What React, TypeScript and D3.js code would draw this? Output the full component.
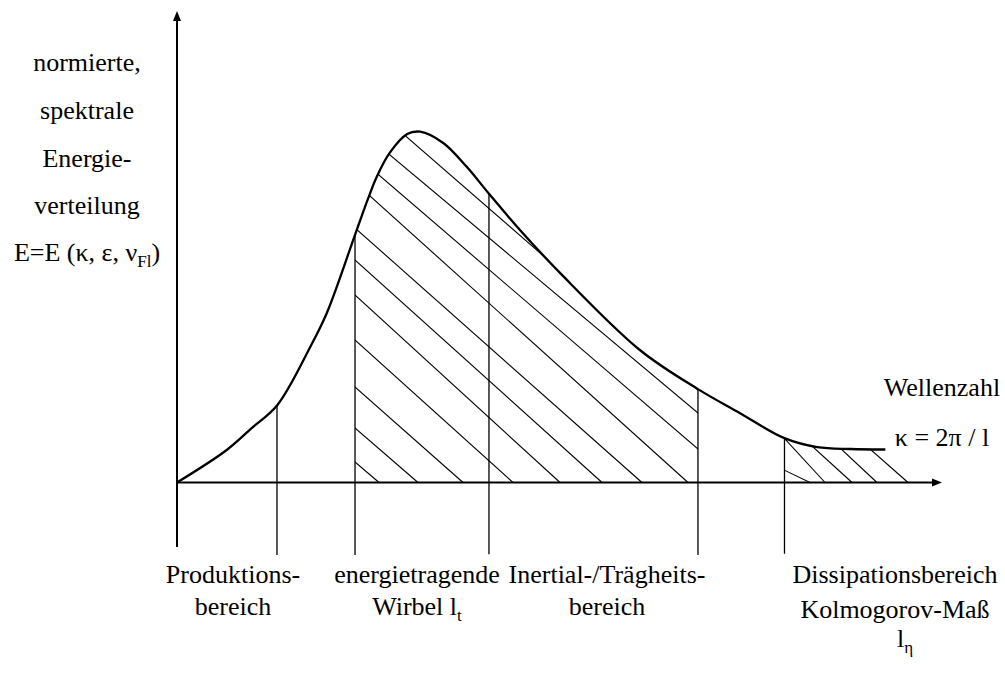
import React, { useEffect, useRef } from "react";
import * as d3 from "d3";

// Spectral energy curve E(κ) (arbitrary units)
const curveKappa = [0, 6.5, 9.8, 13.1, 17.4, 19.6, 23.5, 25.0, 26.1, 27.8, 30.1, 31.8, 34.8, 37.9, 40.7, 44.8, 50.1, 60.5, 68.1, 73.6, 79.4, 83.7, 88.0, 92.6];
const curveEnergy = [0, 6.9, 11.6, 16.4, 28.7, 36.0, 53.6, 60.3, 64.8, 69.9, 73.9, 74.4, 72.0, 66.9, 61.4, 53.6, 44.4, 28.1, 19.8, 14.7, 9.4, 7.5, 7.1, 7.0];

// Range boundaries (κ)
const dividerKappa = [13.07, 23.27, 40.78, 68.1, 79.41];

// Hatch lines: axis intercept κ and a second point (κ, E) on the line
const hatch1AxisKappa = [26.41, 31.5, 37.39, 43.92, 50.07, 55.56, 60.78, 66.8, 73.2, 78.95, 81.96];
const hatch1RefKappa = [23.27, 23.27, 23.27, 23.27, 23.27, 23.27, 23.27, 23.27, 23.27, 23.27, 23.27];
const hatch1RefEnergy = [4.35, 11.56, 20.25, 30.22, 39.77, 47.19, 53.98, 63.63, 69.56, 75.67, 82.82];

const hatch2AxisKappa = [82.75, 84.71, 88.24, 91.5, 95.56];
const hatch2RefKappa = [79.35, 79.6, 83.14, 86.67, 90.59];
const hatch2RefEnergy = [2.65, 9.0, 7.53, 7.32, 7.1];

const hatch2EndKappa = 96.1;

// Texts
const yLabelLines = ["normierte,", "spektrale", "Energie-", "verteilung"];
const yLabelFormula = ["E=E (κ, ε, ν", "Fl", ")"];
const xLabelLines = ["Wellenzahl", "κ = 2π / l"];
const rangeLabels = [
  { top: "Produktions-", bottom: "bereich", sub: "" },
  { top: "energietragende", bottom: "Wirbel l", sub: "t" },
  { top: "Inertial-/Trägheits-", bottom: "bereich", sub: "" },
  { top: "Dissipationsbereich", bottom: "Kolmogorov-Maß", sub: "" },
];

const W = 1005;
const H = 675;
const FONT = "'Liberation Serif', 'Times New Roman', serif";

export default function App() {
  const ref = useRef<SVGSVGElement | null>(null);

  useEffect(() => {
    const svg = d3.select(ref.current);
    svg.selectAll("*").remove();

    const x = d3.scaleLinear().domain([0, 100]).range([177, 942]);
    const y = d3.scaleLinear().domain([0, 100]).range([482.5, 11]);
    const y0 = y(0);

    const pts: [number, number][] = curveKappa.map((k, i) => [k, curveEnergy[i]]);
    const line = d3
      .line<[number, number]>()
      .x((d) => x(d[0]))
      .y((d) => y(d[1]))
      .curve(d3.curveCatmullRom.alpha(0.5));
    const pathD = line(pts) as string;

    // sample the path
    const tmp = svg.append("path").attr("d", pathD).attr("fill", "none");
    const node = tmp.node() as SVGPathElement;
    const total = node.getTotalLength();
    const samples: [number, number][] = [];
    const N = 3000;
    for (let i = 0; i <= N; i++) {
      const p = node.getPointAtLength((total * i) / N);
      samples.push([p.x, p.y]);
    }
    tmp.remove();
    const yAt = (px: number) => {
      for (let i = 1; i < samples.length; i++) {
        const [xa, ya] = samples[i - 1];
        const [xb, yb] = samples[i];
        if (px >= xa && px <= xb) {
          const t = xb === xa ? 0 : (px - xa) / (xb - xa);
          return ya + t * (yb - ya);
        }
      }
      return samples[samples.length - 1][1];
    };

    const defs = svg.append("defs");
    const makeClip = (id: string, x0: number, x1: number, extra: [number, number][]) => {
      const poly: [number, number][] = [[x0, y0], [x0, yAt(x0)]];
      samples.forEach((s) => {
        if (s[0] > x0 && s[0] < x1) poly.push(s);
      });
      poly.push([x1, yAt(x1)]);
      extra.forEach((e) => poly.push(e));
      defs
        .append("clipPath")
        .attr("id", id)
        .append("polygon")
        .attr("points", poly.map((p) => p.join(",")).join(" "));
    };
    const endX = x(curveKappa[curveKappa.length - 1]);
    makeClip("clip1", x(dividerKappa[1]), x(dividerKappa[3]), [[x(dividerKappa[3]), y0]]);
    makeClip("clip2", x(dividerKappa[4]), endX, [[x(hatch2EndKappa), y0]]);

    const drawHatch = (clip: string, ax: number[], rk: number[], re: number[]) => {
      const g = svg.append("g").attr("clip-path", `url(#${clip})`);
      ax.forEach((k, i) => {
        const Ax = x(k);
        const Ay = y0;
        const Bx = x(rk[i]);
        const By = y(re[i]);
        const t = 6;
        g.append("line")
          .attr("x1", Ax)
          .attr("y1", Ay)
          .attr("x2", Ax + t * (Bx - Ax))
          .attr("y2", Ay + t * (By - Ay))
          .attr("stroke", "#000")
          .attr("stroke-width", 1.1);
      });
    };
    drawHatch("clip1", hatch1AxisKappa, hatch1RefKappa, hatch1RefEnergy);
    drawHatch("clip2", hatch2AxisKappa, hatch2RefKappa, hatch2RefEnergy);

    // dividers
    const divBottom = [-15.4, -15.4, -15.2, -15.4, -15.1];
    dividerKappa.forEach((k, i) => {
      svg
        .append("line")
        .attr("x1", x(k))
        .attr("x2", x(k))
        .attr("y1", yAt(x(k)))
        .attr("y2", y(divBottom[i]))
        .attr("stroke", "#000")
        .attr("stroke-width", 1.3);
    });

    // axes
    const ax = svg.append("g");
    ax.append("line")
      .attr("x1", x(0))
      .attr("x2", x(0))
      .attr("y1", y(-13.7))
      .attr("y2", y(100) + 8)
      .attr("stroke", "#000")
      .attr("stroke-width", 2);
    ax.append("polygon")
      .attr("points", `${x(0)},${y(100)} ${x(0) - 4},${y(100) + 10} ${x(0) + 4},${y(100) + 10}`)
      .attr("fill", "#000");
    ax.append("line")
      .attr("x1", x(0))
      .attr("x2", x(100) - 8)
      .attr("y1", y0)
      .attr("y2", y0)
      .attr("stroke", "#000")
      .attr("stroke-width", 2);
    ax.append("polygon")
      .attr("points", `${x(100)},${y0} ${x(100) - 10},${y0 - 4} ${x(100) - 10},${y0 + 4}`)
      .attr("fill", "#000");

    // curve
    svg.append("path")
      .attr("d", pathD)
      .attr("fill", "none")
      .attr("stroke", "#000")
      .attr("stroke-width", 2.3)
      .attr("stroke-linejoin", "round");

    // texts
    const tg = svg.append("g").attr("font-family", FONT).attr("font-size", 26).attr("fill", "#000");
    const yBase = [71, 119, 167, 214];
    yLabelLines.forEach((s, i) => {
      tg.append("text").attr("x", 87).attr("y", yBase[i]).attr("text-anchor", "middle").text(s);
    });
    const f = tg.append("text").attr("x", 87).attr("y", 261).attr("text-anchor", "middle");
    f.append("tspan").text(yLabelFormula[0]);
    f.append("tspan").attr("font-size", 17).attr("dy", 6).text(yLabelFormula[1]);
    f.append("tspan").attr("dy", -6).text(yLabelFormula[2]);

    tg.append("text").attr("x", 942).attr("y", 396).attr("text-anchor", "middle").text(xLabelLines[0]);
    tg.append("text").attr("x", 942).attr("y", 446).attr("text-anchor", "middle").text(xLabelLines[1]);

    const cx = [233, 417, 607, 895];
    rangeLabels.forEach((r, i) => {
      tg.append("text").attr("x", cx[i]).attr("y", 583).attr("text-anchor", "middle").text(r.top);
      const b = tg.append("text")
        .attr("x", cx[i])
        .attr("y", i === 3 ? 618 : 615)
        .attr("text-anchor", "middle");
      b.append("tspan").text(r.bottom);
      if (r.sub) b.append("tspan").attr("font-size", 17).attr("dy", 6).text(r.sub);
    });
    const le = tg.append("text").attr("x", 905).attr("y", 647).attr("text-anchor", "middle");
    le.append("tspan").text("l");
    le.append("tspan").attr("font-size", 17).attr("dy", 6).text("η");
  }, []);

  return (
    <svg
      ref={ref}
      width={W}
      height={H}
      viewBox={`0 0 ${W} ${H}`}
      style={{ position: "absolute", left: 0, top: 0, background: "#fff" }}
    />
  );
}
